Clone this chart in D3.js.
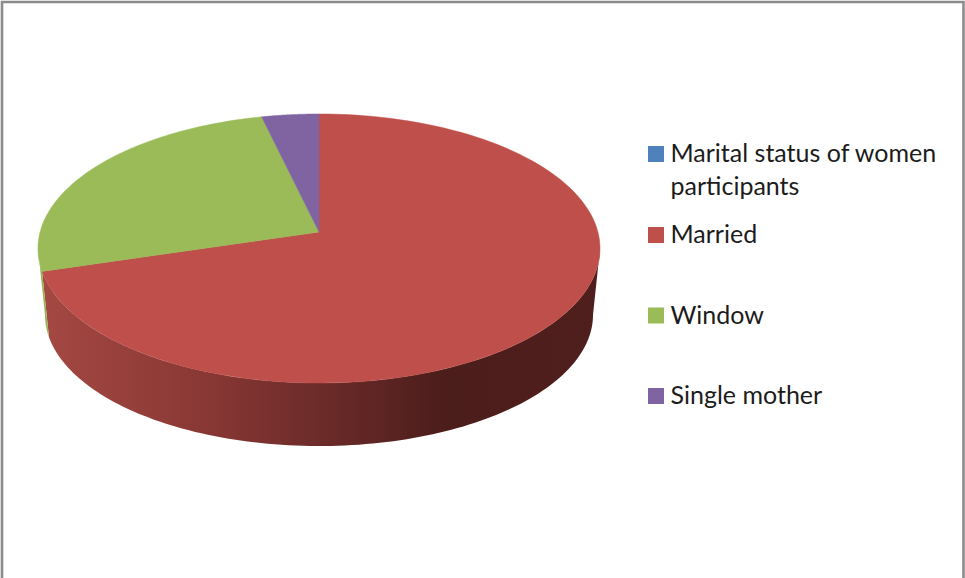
<!DOCTYPE html>
<html>
<head>
<meta charset="utf-8">
<script src="https://cdnjs.cloudflare.com/ajax/libs/d3/7.8.5/d3.min.js"></script>
<style>
  html, body { margin: 0; padding: 0; background: #fff; overflow: hidden; }
  svg { display: block; }
  text { font-family: Lato, "Open Sans", sans-serif; font-size: 25px; fill: #1c1c1c; }
</style>
</head>
<body>
<svg id="chart" width="965" height="578"></svg>
<script>
// Marital status of women participants
const categories = ["Marital status of women participants", "Married", "Window", "Single mother"];
const legendLines = [["Marital status of women", "participants"], ["Married"], ["Window"], ["Single mother"]];
const counts = [0, 19, 7, 1];
const colors = ["#4f81bd", "#be4f4b", "#9bbb59", "#8064a2"];

const width = 965, height = 578;
const svg = d3.select("#chart");

// Frame: open at the bottom edge
svg.append("path")
  .attr("d", d3.line()([[2, height], [2, 2], [963.5, 2], [963.5, height]]))
  .attr("fill", "none").attr("stroke", "#8c8c8c")
  .attr("stroke-width", 2.6);

// Pie layout, clockwise from twelve o'clock
const pie = d3.pie().sort(null).value(d => d)
  .startAngle(0).endAngle(2 * Math.PI);
const slices = pie(counts);

// Perspective view of the disc: the far rim is compressed
const view = { cx: 319, cy: 232, a: 278.9, b: 132.5, k: 0.1227 };
const depth = { dy: 66.8, scale: 0.975 };

function project(theta, lower) {
  const u = Math.sin(theta), v = -Math.cos(theta);
  const w = 1 - view.k * v;
  const s = lower ? depth.scale : 1;
  return [
    view.cx + s * view.a * u / w,
    view.cy + (lower ? depth.dy : 0) + s * view.b * v / w
  ];
}
const line = d3.line();
const sweep = (a, b) => d3.range(0, 121).map(i => a + (b - a) * i / 120);

// Rim angles where the projected disc is widest; walls are only visible between them
const rightLimit = Math.acos(-view.k);
const leftLimit = 2 * Math.PI - rightLimit;

// Vertical wall below a stretch of the rim
function wallPath(a, b) {
  const top = sweep(a, b).map(t => project(t, false));
  const bottom = sweep(a, b).reverse().map(t => project(t, true));
  return line(top.concat(bottom)) + "Z";
}
// Flat wedge from the disc centre out to the rim
function facePath(a, b) {
  return line([[view.cx, view.cy]].concat(sweep(a, b).map(t => project(t, false)))) + "Z";
}

// Side shading runs from a lit left edge into deep shadow on the right
const shade = svg.append("defs").append("linearGradient")
  .attr("id", "wall-shade")
  .attr("gradientUnits", "userSpaceOnUse")
  .attr("x1", 45).attr("x2", 597).attr("y1", 0).attr("y2", 0);
[[0, "#a44842"], [0.28, "#8a3835"], [0.5, "#6c2b29"], [0.73, "#4b1d1b"], [1, "#4f1f1d"]]
  .forEach(([o, c]) => shade.append("stop").attr("offset", o).attr("stop-color", c));

// Walls first, clipped to the visible arc; the top faces cover the rest
const walls = svg.append("g");
walls.selectAll("path")
  .data(slices.filter(d => d.value > 0 &&
    Math.max(d.startAngle, rightLimit) < Math.min(d.endAngle, leftLimit)))
  .join("path")
  .attr("d", d => wallPath(Math.max(d.startAngle, rightLimit), Math.min(d.endAngle, leftLimit)))
  .attr("fill", d => d.index === 1 ? "url(#wall-shade)" : d3.color(colors[d.index]).darker(0.1));

// A hairline in the wedge colour closes the seam against the walls
svg.append("g").selectAll("path")
  .data(slices.filter(d => d.value > 0))
  .join("path")
  .attr("d", d => facePath(d.startAngle, d.endAngle))
  .attr("fill", d => colors[d.index])
  .attr("stroke", d => colors[d.index])
  .attr("stroke-width", 0.5);

// Legend
const rows = [154, 235, 315.5, 396];
const legend = svg.append("g").selectAll("g")
  .data(categories)
  .join("g")
  .attr("transform", (d, i) => `translate(648,${rows[i]})`);
legend.append("rect")
  .attr("x", 0).attr("y", -8).attr("width", 16).attr("height", 16)
  .attr("fill", (d, i) => colors[i]);
legend.each(function (d, i) {
  d3.select(this).selectAll("text")
    .data(legendLines[i])
    .join("text")
    .attr("x", 22.5)
    .attr("y", (t, j) => 8 + j * 32.5)
    .text(t => t);
});
</script>
</body>
</html>
